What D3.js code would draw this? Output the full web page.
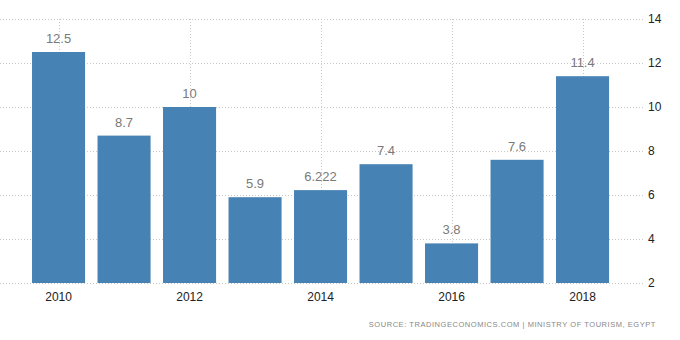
<!DOCTYPE html>
<html>
<head>
<meta charset="utf-8">
<script src="https://cdn.jsdelivr.net/npm/d3@7"></script>
<style>
  html, body { margin: 0; padding: 0; background: #fff; }
  svg { display: block; }
</style>
</head>
<body>
<svg id="chart" width="680" height="340"></svg>
<script>
// Yearly values, Egypt tourism series
const years = ["2010", "2011", "2012", "2013", "2014", "2015", "2016", "2017", "2018"];
const values = [12.5, 8.7, 10, 5.9, 6.222, 7.4, 3.8, 7.6, 11.4];
const valueLabels = ["12.5", "8.7", "10", "5.9", "6.222", "7.4", "3.8", "7.6", "11.4"];
const yTicks = [2, 4, 6, 8, 10, 12, 14];
const xTickYears = ["2010", "2012", "2014", "2016", "2018"];
const sourceText = "SOURCE: TRADINGECONOMICS.COM | MINISTRY OF TOURISM, EGYPT";

const svg = d3.select("#chart");
const font = "'Liberation Sans', Arial, sans-serif";

const x = d3.scaleBand()
  .domain(years)
  .range([25.8, 615.3])
  .paddingInner(0.19)
  .paddingOuter(0.095);

const y = d3.scaleLinear().domain([2, 14]).range([283, 19]);

// horizontal dotted grid
svg.append("g")
  .selectAll("line")
  .data(yTicks)
  .join("line")
  .attr("x1", 0)
  .attr("x2", 645)
  .attr("y1", d => Math.round(y(d)) + 0.5)
  .attr("y2", d => Math.round(y(d)) + 0.5)
  .attr("stroke", "#c8c8c8")
  .attr("stroke-width", 1)
  .attr("stroke-dasharray", "1,2");

// vertical dotted grid at labelled years
svg.append("g")
  .selectAll("line")
  .data(xTickYears)
  .join("line")
  .attr("x1", d => Math.round(x(d) + x.bandwidth() / 2) + 0.5)
  .attr("x2", d => Math.round(x(d) + x.bandwidth() / 2) + 0.5)
  .attr("y1", y(14))
  .attr("y2", y(2))
  .attr("stroke", "#c8c8c8")
  .attr("stroke-width", 1)
  .attr("stroke-dasharray", "1,2");

// bars
svg.append("g")
  .selectAll("rect")
  .data(years.map((yr, i) => ({ yr, v: values[i], label: valueLabels[i] })))
  .join("rect")
  .attr("x", d => x(d.yr))
  .attr("width", x.bandwidth())
  .attr("y", d => y(d.v))
  .attr("height", d => y(2) - y(d.v))
  .attr("fill", "#4682b4");

// value labels
svg.append("g")
  .selectAll("text")
  .data(years.map((yr, i) => ({ yr, v: values[i], label: valueLabels[i] })))
  .join("text")
  .attr("x", d => x(d.yr) + x.bandwidth() / 2)
  .attr("y", d => y(d.v) - 9)
  .attr("text-anchor", "middle")
  .attr("font-family", font)
  .attr("font-size", 13)
  .attr("fill", "#7a7a7a")
  .text(d => d.label);

// bottom axis
const xAxis = d3.axisBottom(x).tickValues(xTickYears).tickSize(0).tickPadding(9);
const gx = svg.append("g").attr("transform", `translate(0,${y(2)})`).call(xAxis);
gx.select(".domain").remove();
gx.selectAll("text")
  .attr("font-family", font)
  .attr("font-size", 12)
  .attr("fill", "#222");

// right axis
const yAxis = d3.axisRight(y).tickValues(yTicks).tickSize(0).tickPadding(0);
const gy = svg.append("g").attr("transform", "translate(648,0)").call(yAxis);
gy.select(".domain").remove();
gy.selectAll("text")
  .attr("font-family", font)
  .attr("font-size", 12)
  .attr("fill", "#222");

// source line
svg.append("text")
  .attr("x", 656)
  .attr("y", 327)
  .attr("text-anchor", "end")
  .attr("font-family", font)
  .attr("font-size", 7.5)
  .attr("letter-spacing", "0.55px")
  .attr("fill", "#888")
  .text(sourceText);
</script>
</body>
</html>
